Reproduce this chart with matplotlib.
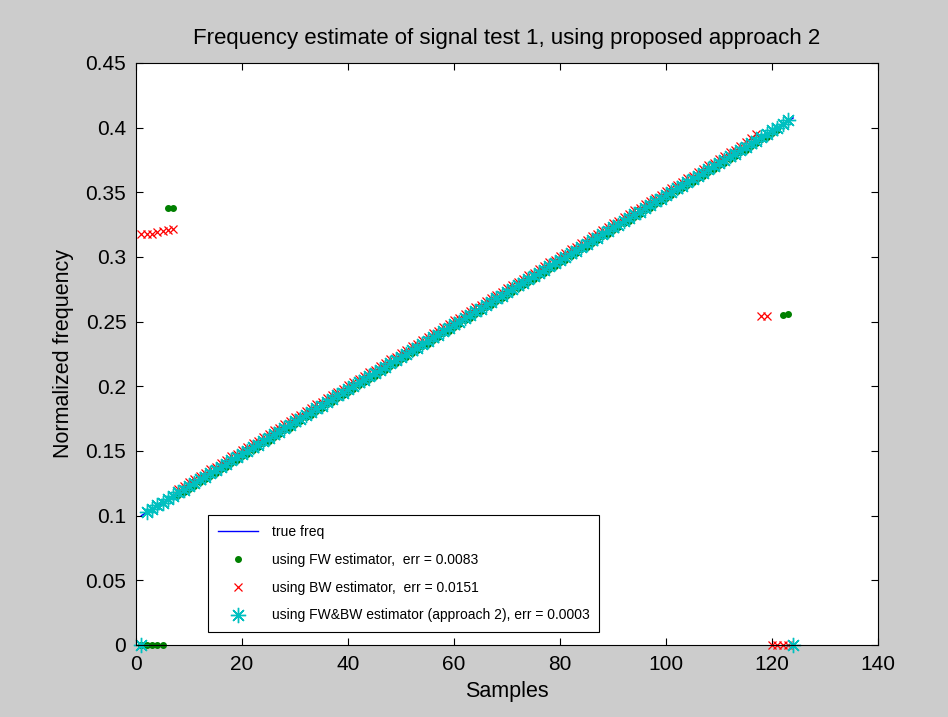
import numpy as np
import matplotlib
matplotlib.use("Agg")
import matplotlib.pyplot as plt

plt.rcParams["font.family"] = ["Liberation Sans", "DejaVu Sans"]

nan = float("nan")

# true frequency (straight line, start and end)
TRUE_N = [1, 124]
TRUE_F = [0.100, 0.4075]

SAMPLES = list(range(1, 125))

FW_VALS = [
    0.000, 0.000, 0.000, 0.000, 0.000, 0.338, 0.338, 0.116, 0.118, 0.121,
    0.123, 0.126, 0.128, 0.131, 0.133, 0.136, 0.138, 0.141, 0.143, 0.146,
    0.148, 0.151, 0.153, 0.156, 0.158, 0.161, 0.163, 0.166, 0.168, 0.171,
    0.173, 0.176, 0.178, 0.181, 0.183, 0.186, 0.188, 0.191, 0.193, 0.196,
    0.198, 0.201, 0.203, 0.206, 0.208, 0.211, 0.213, 0.216, 0.218, 0.221,
    0.223, 0.226, 0.228, 0.231, 0.233, 0.236, 0.238, 0.241, 0.243, 0.246,
    0.248, 0.251, 0.253, 0.256, 0.258, 0.261, 0.263, 0.266, 0.268, 0.271,
    0.273, 0.276, 0.278, 0.281, 0.283, 0.286, 0.288, 0.291, 0.293, 0.296,
    0.298, 0.301, 0.303, 0.306, 0.308, 0.311, 0.313, 0.316, 0.318, 0.321,
    0.323, 0.326, 0.328, 0.331, 0.333, 0.336, 0.338, 0.341, 0.343, 0.346,
    0.348, 0.351, 0.353, 0.356, 0.358, 0.361, 0.363, 0.366, 0.368, 0.371,
    0.373, 0.376, 0.378, 0.381, 0.383, 0.386, 0.388, 0.391, 0.393, 0.396,
    0.398, 0.255, 0.256, nan,
]

BW_VALS = [
    0.318, 0.318, 0.318, 0.319, 0.320, 0.321, 0.322, 0.121, 0.123, 0.126,
    0.128, 0.131, 0.133, 0.136, 0.138, 0.141, 0.143, 0.146, 0.148, 0.151,
    0.153, 0.156, 0.158, 0.161, 0.163, 0.166, 0.168, 0.171, 0.173, 0.176,
    0.178, 0.181, 0.183, 0.186, 0.188, 0.191, 0.193, 0.196, 0.198, 0.201,
    0.203, 0.206, 0.208, 0.211, 0.213, 0.216, 0.218, 0.221, 0.223, 0.226,
    0.228, 0.231, 0.233, 0.236, 0.238, 0.241, 0.243, 0.246, 0.248, 0.251,
    0.253, 0.256, 0.258, 0.261, 0.263, 0.266, 0.268, 0.271, 0.273, 0.276,
    0.278, 0.281, 0.283, 0.286, 0.288, 0.291, 0.293, 0.296, 0.298, 0.301,
    0.303, 0.306, 0.308, 0.311, 0.313, 0.316, 0.318, 0.321, 0.323, 0.326,
    0.328, 0.331, 0.333, 0.336, 0.338, 0.341, 0.343, 0.346, 0.348, 0.351,
    0.353, 0.356, 0.358, 0.361, 0.363, 0.366, 0.368, 0.371, 0.373, 0.376,
    0.378, 0.381, 0.383, 0.386, 0.389, 0.392, 0.395, 0.254, 0.254, 0.000,
    0.000, 0.000, 0.000, nan,
]

FWBW_VALS = [
    0.000, 0.103, 0.105, 0.108, 0.110, 0.113, 0.115, 0.118, 0.120, 0.123,
    0.125, 0.128, 0.130, 0.133, 0.135, 0.138, 0.140, 0.143, 0.145, 0.148,
    0.150, 0.153, 0.155, 0.158, 0.160, 0.163, 0.165, 0.168, 0.170, 0.173,
    0.175, 0.178, 0.180, 0.183, 0.185, 0.188, 0.190, 0.193, 0.195, 0.198,
    0.200, 0.203, 0.205, 0.208, 0.210, 0.213, 0.215, 0.218, 0.220, 0.223,
    0.225, 0.228, 0.230, 0.233, 0.235, 0.238, 0.240, 0.243, 0.245, 0.248,
    0.250, 0.253, 0.255, 0.258, 0.260, 0.263, 0.265, 0.268, 0.270, 0.273,
    0.275, 0.278, 0.280, 0.283, 0.285, 0.288, 0.290, 0.293, 0.295, 0.298,
    0.300, 0.303, 0.305, 0.308, 0.310, 0.313, 0.315, 0.318, 0.320, 0.323,
    0.325, 0.328, 0.330, 0.333, 0.335, 0.338, 0.340, 0.343, 0.345, 0.348,
    0.350, 0.353, 0.355, 0.358, 0.360, 0.363, 0.365, 0.368, 0.370, 0.373,
    0.375, 0.378, 0.380, 0.383, 0.385, 0.388, 0.390, 0.393, 0.395, 0.398,
    0.400, 0.403, 0.406, 0.000,
]

LABELS = [
    "true freq",
    "using FW estimator,  err = 0.0083",
    "using BW estimator,  err = 0.0151",
    "using FW&BW estimator (approach 2), err = 0.0003",
]
X_TICKS = [0, 20, 40, 60, 80, 100, 120, 140]
Y_TICKS = [0, 0.05, 0.1, 0.15, 0.2, 0.25, 0.3, 0.35, 0.4, 0.45]
Y_TICK_LABELS = ["0", "0.05", "0.1", "0.15", "0.2", "0.25", "0.3", "0.35", "0.4", "0.45"]


def main() -> None:
    fig = plt.figure(figsize=(9.48, 7.17), dpi=100, facecolor="#cccccc")
    ax = fig.add_axes([136 / 948, 1 - 645 / 717, 742 / 948, 582 / 717])
    ax.set_facecolor("white")

    ax.plot(TRUE_N, TRUE_F, color="#0000ff", linewidth=1.0, label=LABELS[0])
    ax.plot(SAMPLES, FW_VALS, linestyle="none", marker=".", markersize=8,
            color="#008000", label=LABELS[1], clip_on=False)
    ax.plot(SAMPLES, BW_VALS, linestyle="none", marker="x", markersize=6,
            markeredgewidth=0.9, color="#ff0000", label=LABELS[2], clip_on=False)
    ax.plot(SAMPLES, FWBW_VALS, linestyle="none", marker=(8, 2, 0), markersize=11,
            markeredgewidth=1.0, color="#00c0c0", label=LABELS[3], clip_on=False)

    ax.set_xlim(0, 140)
    ax.set_ylim(0, 0.45)
    ax.set_xticks(X_TICKS)
    ax.set_yticks(Y_TICKS)
    ax.set_yticklabels(Y_TICK_LABELS)
    ax.tick_params(direction="in", top=True, right=True, length=5, width=0.8,
                   labelsize=15, pad=7, colors="black")
    for spine in ax.spines.values():
        spine.set_linewidth(0.8)

    ax.set_xlabel("Samples", fontsize=15.5, labelpad=5)
    ax.set_ylabel("Normalized frequency", fontsize=15.5, labelpad=8)
    ax.set_title("Frequency estimate of signal test 1, using proposed approach 2",
                 fontsize=16, pad=14)

    leg = ax.legend(loc="lower left", bbox_to_anchor=(0.097, 0.022), fontsize=10,
                    fancybox=False, framealpha=1, edgecolor="black",
                    borderpad=0.7, labelspacing=1.0, handlelength=2.9,
                    handletextpad=1.0, borderaxespad=0)
    leg.get_frame().set_linewidth(0.8)

    fig.savefig("out.png", dpi=100, facecolor=fig.get_facecolor())
    plt.close(fig)


if __name__ == "__main__":
    main()
